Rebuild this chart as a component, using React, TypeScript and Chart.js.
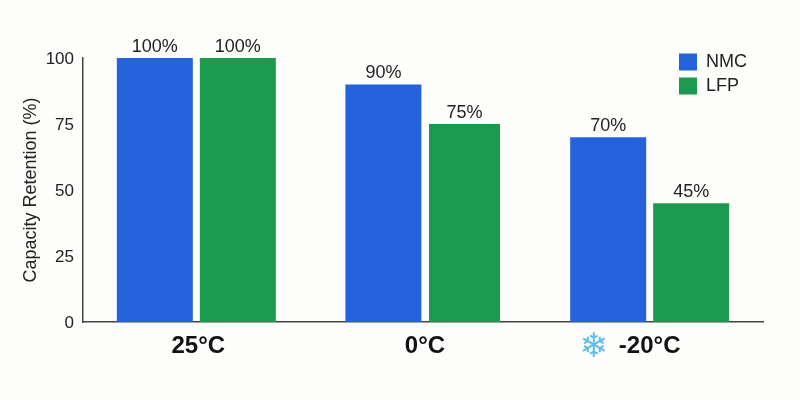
import React, { useEffect, useRef } from 'react'
import { Chart, registerables } from 'chart.js'

Chart.register(...registerables)

const categories = ['25°C', '0°C', '-20°C']
const nmcValues = [100, 90, 70]
const lfpValues = [100, 75, 45]
const yTicks = [0, 25, 50, 75, 100]

const FONT = '"Liberation Sans", Arial, sans-serif'
const BLUE = '#2563DC'
const GREEN = '#1C9A50'
const PAGE_BG = '#FDFDFB'

// the original groups are not perfectly even, small nudges in px
const xTickNudge = [2, 2, 0]

const extrasPlugin = {
  id: 'extras',
  afterDatasetsUpdate(chart: any) {
    // middle group: NMC sits a bit to the right, LFP is a bit narrower
    chart.getDatasetMeta(0).data[1].x += 1.9
    chart.getDatasetMeta(1).data[1].width = 71
  },
  afterLayout(chart: any) {
    // legend sits inside the plot area, top right
    const legend = chart.legend
    const w = legend.width
    const h = legend.height
    legend.left = 673
    legend.right = 673 + w
    legend.top = 47
    legend.bottom = 47 + h
  },
  beforeDraw(chart: any) {
    chart.scales.y.getLabelItems().forEach((item: any) => {
      item.options.translation[1] += 1.5
    })
    chart.scales.x.getLabelItems().forEach((item: any, i: number) => {
      item.options.translation[0] += xTickNudge[i]
    })
  },
  afterDatasetsDraw(chart: any) {
    // value labels above the bars + the snowflake next to the cold category
    const { ctx } = chart
    ctx.save()
    ctx.font = `18px ${FONT}`
    ctx.fillStyle = '#222222'
    ctx.textAlign = 'center'
    ctx.textBaseline = 'alphabetic'
    chart.data.datasets.forEach((ds: any, i: number) => {
      chart.getDatasetMeta(i).data.forEach((bar: any, j: number) => {
        ctx.fillText(`${ds.data[j]}%`, bar.x, bar.y - 6)
      })
    })
    const x = chart.scales.x.getPixelForTick(2)
    ctx.font = '34px "DejaVu Sans"'
    ctx.fillStyle = '#5DBDEB'
    ctx.textBaseline = 'middle'
    ctx.fillText('\u2744', x - 55.7, 348)
    ctx.restore()
  },
}

export default function App() {
  const canvasRef = useRef<HTMLCanvasElement>(null)

  useEffect(() => {
    if (!canvasRef.current) return
    const chart = new Chart(canvasRef.current, {
      type: 'bar',
      data: {
        labels: categories,
        datasets: [
          { label: 'NMC', data: nmcValues, backgroundColor: BLUE },
          { label: 'LFP', data: lfpValues, backgroundColor: GREEN },
        ],
      },
      options: {
        animation: false,
        responsive: false,
        layout: { padding: { top: 58, right: 37, left: 0, bottom: 0 } },
        datasets: { bar: { categoryPercentage: 0.7323, barPercentage: 0.9157 } },
        plugins: {
          title: { display: false },
          tooltip: { enabled: false },
          legend: {
            position: 'chartArea',
            align: 'start',
            labels: {
              boxWidth: 18,
              boxHeight: 17,
              padding: 6,
              color: '#222222',
              font: { family: FONT, size: 18 },
            },
          },
        },
        scales: {
          x: {
            afterFit: (scale: any) => { scale.height = 78 },
            grid: { display: false, drawTicks: false },
            border: { display: true, color: '#444444', width: 1.5 },
            ticks: {
              color: '#111111',
              padding: 10,
              font: { family: FONT, size: 24, weight: 'bold' },
            },
          },
          y: {
            min: 0,
            max: 100,
            afterFit: (scale: any) => { scale.width = 83 },
            afterBuildTicks: (scale: any) => {
              scale.ticks = yTicks.map((value) => ({ value }))
            },
            grid: { display: false, drawTicks: false },
            border: { display: true, color: '#444444', width: 1.5 },
            ticks: {
              color: '#222222',
              padding: 9,
              font: { family: FONT, size: 17 },
            },
            title: {
              display: true,
              text: 'Capacity Retention (%)',
              color: '#222222',
              padding: { top: 20, bottom: 0 },
              font: { family: FONT, size: 18 },
            },
          },
        },
      } as any,
      plugins: [extrasPlugin],
    })
    return () => chart.destroy()
  }, [])

  return (
    <div style={{ position: 'absolute', left: 0, top: 0, width: 800, height: 400, background: PAGE_BG }}>
      <canvas ref={canvasRef} width={800} height={400} style={{ display: 'block' }} />
    </div>
  )
}
